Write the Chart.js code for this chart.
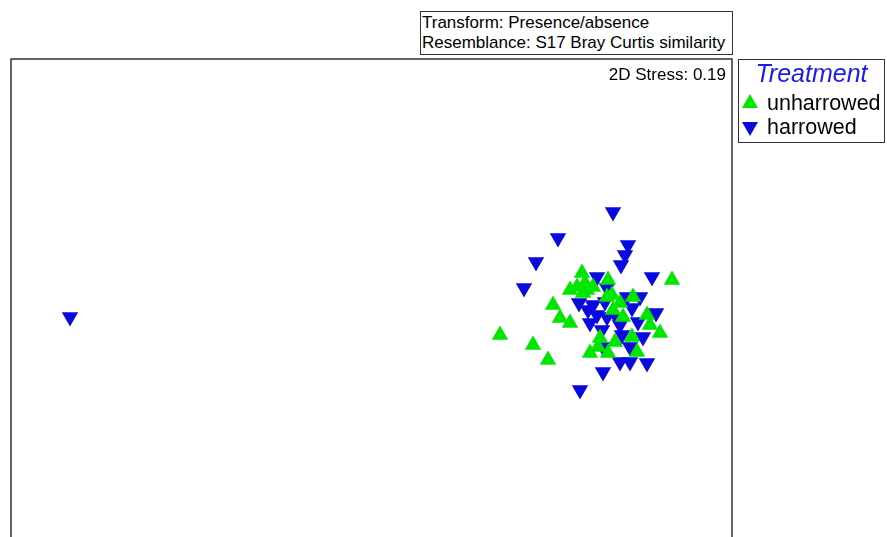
<!DOCTYPE html>
<html>
<head>
<meta charset="utf-8">
<script src="https://cdn.jsdelivr.net/npm/chart.js@4.4.1/dist/chart.umd.min.js"></script>
<style>
  html, body { margin: 0; padding: 0; background: #fff; overflow: hidden; }
  body { width: 887px; height: 537px; position: relative; font-family: "Liberation Sans", Arial, sans-serif; }
  #wrap { position: absolute; left: 0; top: 0; width: 887px; height: 580px; }
  .box { position: absolute; border: 1px solid #333; background: #fff; box-sizing: border-box; }
  #hdr { left: 420px; top: 11px; width: 313px; height: 44px; font-size: 17px; line-height: 20px; padding: 1px 0 0 1px; color: #000; white-space: nowrap; }
  #stress { position: absolute; right: 161px; top: 66px; font-size: 17px; line-height: 1; color: #000; white-space: nowrap; }
  #leg { left: 738px; top: 59px; width: 147px; height: 84px; }
  #leg .title { position: absolute; left: 0; width: 145px; top: 1px; text-align: center; font-style: italic; color: #1a1aee; font-size: 25px; line-height: 1; }
  #leg .item { position: absolute; left: 28px; font-size: 21.5px; line-height: 1; color: #000; white-space: nowrap; }
  .up { position: absolute; width: 0; height: 0; border-left: 8.5px solid transparent; border-right: 8.5px solid transparent; border-bottom: 14px solid #00e600; }
  .down { position: absolute; width: 0; height: 0; border-left: 8.5px solid transparent; border-right: 8.5px solid transparent; border-top: 14px solid #0a0ae0; }
</style>
</head>
<body>
<div id="wrap"><canvas id="c" width="887" height="580"></canvas></div>
<div id="hdr" class="box">Transform: Presence/absence<br>Resemblance: S17 Bray Curtis similarity</div>
<div id="stress">2D Stress: 0.19</div>
<div id="leg" class="box">
  <div class="title">Treatment</div>
  <div class="up" style="left:3px; top:34px;"></div>
  <div class="item" style="top:33px;">unharrowed</div>
  <div class="down" style="left:3px; top:62px;"></div>
  <div class="item" style="top:57px;">harrowed</div>
</div>
<script>
// nMDS ordination coordinates (MDS1, MDS2) per sample
const seriesNames = ['unharrowed', 'harrowed'];

const unharrowedX = [-0.18, -0.23, -0.13, 0.08, 0.72, -0.47, -0.40, -0.30, -1.00, -0.67, -0.52,
  0.33, 0.20, 0.47, 0.60, 0.13, 0.32, 0.15, -0.10, 0.08, 0.37, 0.00, -0.17, -0.07, 0.23, 0.07,
  -0.02, -0.15, -0.30, 0.50, 0.12];
const unharrowedY = [0.37, 0.23, 0.20, 0.30, 0.30, 0.05, -0.08, -0.13, -0.25, -0.35, -0.50,
  0.13, 0.07, -0.05, -0.23, 0.00, -0.27, -0.32, -0.43, -0.43, -0.42, -0.28, 0.17, 0.23, -0.07, 0.13,
  -0.37, 0.27, 0.20, -0.15, 0.15];

const harrowedX = [-5.30, 0.13, -0.42, 0.28, 0.25, 0.21, -0.64, -0.76, 0.52, -0.03, 0.07, -0.21,
  -0.07, 0.05, 0.27, 0.40, -0.03, -0.10, 0.02, 0.20, 0.32, 0.38, 0.56, 0.43, 0.22, 0.03, 0.30,
  0.20, 0.30, 0.47, 0.03, -0.20, 0.07, -0.12, 0.17];
const harrowedY = [-0.07, 0.98, 0.72, 0.65, 0.55, 0.45, 0.48, 0.22, 0.33, 0.33, 0.22, 0.07,
  0.05, 0.08, 0.13, 0.13, -0.05, -0.13, -0.20, -0.15, 0.02, -0.12, -0.03, -0.27, -0.25, -0.37, -0.37,
  -0.52, -0.52, -0.53, -0.62, -0.80, -0.07, 0.00, -0.08];

const toPoints = (xs, ys) => xs.map((x, i) => ({ x: x, y: ys[i] }));

// frame around the plotting area
const framePlugin = {
  id: 'frame',
  afterDraw(chart) {
    const a = chart.chartArea, ctx = chart.ctx;
    ctx.save();
    ctx.strokeStyle = '#333';
    ctx.lineWidth = 1.5;
    ctx.strokeRect(a.left, a.top, a.right - a.left, a.bottom - a.top);
    ctx.restore();
  }
};

new Chart(document.getElementById('c'), {
  type: 'scatter',
  data: {
    datasets: [
      {
        label: seriesNames[0],
        data: toPoints(unharrowedX, unharrowedY),
        pointStyle: 'triangle',
        rotation: 0,
        pointRadius: 9.5,
        pointHoverRadius: 9.5,
        borderWidth: 0,
        backgroundColor: '#00e600'
      },
      {
        label: seriesNames[1],
        data: toPoints(harrowedX, harrowedY),
        pointStyle: 'triangle',
        rotation: 180,
        pointRadius: 9.5,
        pointHoverRadius: 9.5,
        borderWidth: 0,
        backgroundColor: '#0a0ae0'
      }
    ]
  },
  options: {
    responsive: false,
    animation: false,
    events: [],
    layout: { padding: { left: 11, right: 155, top: 59, bottom: 19 } },
    plugins: { legend: { display: false }, tooltip: { enabled: false } },
    scales: {
      x: { type: 'linear', display: false, min: -5.89, max: 1.32 },
      y: { type: 'linear', display: false, min: -2.51, max: 2.51 }
    }
  },
  plugins: [framePlugin]
});
</script>
</body>
</html>
